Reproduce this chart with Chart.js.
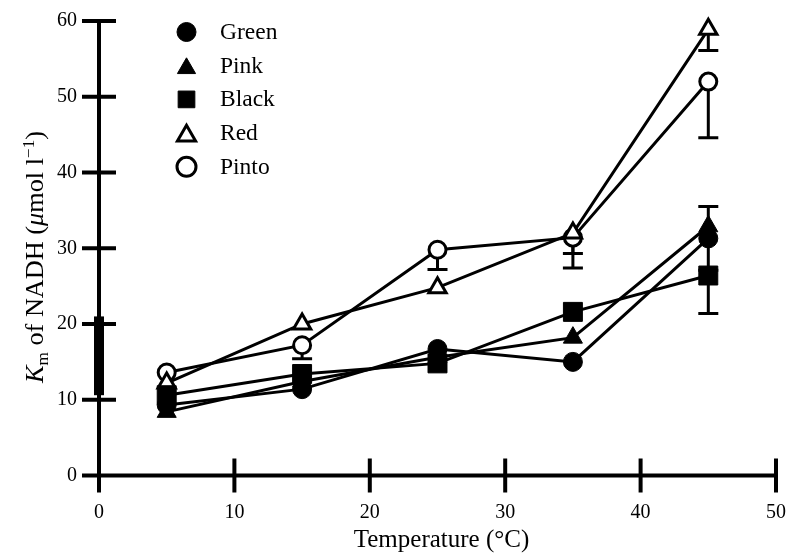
<!DOCTYPE html>
<html>
<head>
<meta charset="utf-8">
<script src="https://cdn.jsdelivr.net/npm/chart.js@4.4.1/dist/chart.umd.min.js"></script>
<style>
  html, body { margin: 0; padding: 0; background: #fff; }
  #wrap { width: 796px; height: 557px; }
</style>
</head>
<body>
<div id="wrap"><canvas id="chart" width="796" height="557"></canvas></div>
<script>
// temperatures (°C) and Km of NADH (µmol l-1)
const temps = [5, 15, 25, 35, 45];
const green = [9.3, 11.4, 16.7, 15.0, 31.3];
const pink  = [8.4, 12.4, 15.6, 18.2, 32.9];
const black = [10.6, 13.4, 14.8, 21.6, 26.4];
const red   = [12.2, 20.0, 24.8, 32.0, 58.9];
const pinto = [13.6, 17.2, 29.8, 31.4, 52.0];

// error bars as [below, above]; null = none drawn
const greenErr = [null, null, null, null, [4.2, 4.2]];
const pinkErr  = [null, null, null, null, null];
const blackErr = [null, null, null, null, [5.0, 0]];
const redErr   = [null, null, null, [2.7, 0], [2.8, 0]];
const pintoErr = [null, [1.8, 0], [2.6, 0], [4.0, 0], [7.4, 0]];

// thick mark on the y axis at 0 °C
const axisBar = [10.6, 21];

const xTicks = [0, 10, 20, 30, 40, 50];
const yTicks = [0, 10, 20, 30, 40, 50, 60];

const SERIF = '"Liberation Serif", "Times New Roman", serif';

const series = [
  { label: 'Green', values: green, err: greenErr, style: 'circle',   filled: true },
  { label: 'Pink',  values: pink,  err: pinkErr,  style: 'triangle', filled: true },
  { label: 'Black', values: black, err: blackErr, style: 'rect',     filled: true },
  { label: 'Red',   values: red,   err: redErr,   style: 'triangle', filled: false },
  { label: 'Pinto', values: pinto, err: pintoErr, style: 'circle',   filled: false }
];

function markerSize(style, filled) {
  if (style === 'circle') return filled ? 9.5 : 8.5;
  if (style === 'triangle') return filled ? 11 : 10;
  return 13.4;
}

const datasets = series.map(s => ({
  label: s.label,
  data: temps.map((t, i) => ({ x: t, y: s.values[i] })),
  showLine: true,
  borderColor: '#000',
  borderWidth: 3,
  pointStyle: s.style,
  pointRadius: markerSize(s.style, s.filled),
  pointBackgroundColor: s.filled ? '#000' : '#fff',
  pointBorderColor: '#000',
  pointBorderWidth: s.filled ? 1 : 3,
  clip: false
}));

datasets.push({
  label: 'axis bar',
  data: axisBar.map(v => ({ x: 0, y: v })),
  showLine: true,
  borderColor: '#000',
  borderWidth: 10,
  borderCapStyle: 'butt',
  pointRadius: 0,
  clip: false
});

function drawMarker(ctx, style, x, y, r, filled) {
  ctx.save();
  ctx.fillStyle = filled ? '#000' : '#fff';
  ctx.strokeStyle = '#000';
  ctx.lineWidth = filled ? 1 : 3;
  ctx.beginPath();
  if (style === 'circle') {
    ctx.arc(x, y, r, 0, Math.PI * 2);
  } else if (style === 'triangle') {
    const a = -Math.PI / 2;
    for (let k = 0; k < 3; k++) {
      const t = a + k * 2 * Math.PI / 3;
      ctx.lineTo(x + Math.cos(t) * r, y + Math.sin(t) * r);
    }
    ctx.closePath();
  } else {
    const h = r * Math.SQRT1_2;
    ctx.rect(x - h, y - h, 2 * h, 2 * h);
  }
  ctx.fill();
  ctx.stroke();
  ctx.restore();
}

const axesPlugin = {
  id: 'axes',
  beforeDatasetsDraw(chart) {
    const { ctx, scales: { x, y } } = chart;
    ctx.save();
    ctx.strokeStyle = '#000';
    ctx.lineWidth = 4;
    ctx.lineCap = 'butt';
    const x0 = x.getPixelForValue(0), y0 = y.getPixelForValue(0);
    ctx.beginPath();
    ctx.moveTo(x0, y0); ctx.lineTo(x0, y.getPixelForValue(60));
    ctx.moveTo(x0, y0); ctx.lineTo(x.getPixelForValue(50), y0);
    yTicks.forEach(v => {
      const py = y.getPixelForValue(v);
      ctx.moveTo(x0 - 17, py); ctx.lineTo(x0 + 17, py);
    });
    xTicks.forEach(v => {
      const px = x.getPixelForValue(v);
      ctx.moveTo(px, y0 - 17); ctx.lineTo(px, y0 + 17);
    });
    ctx.stroke();

    // error bars, drawn under the markers
    ctx.lineWidth = 3;
    series.forEach(s => {
      s.err.forEach((e, i) => {
        if (!e) return;
        const px = x.getPixelForValue(temps[i]);
        const ends = [];
        if (e[0]) ends.push(s.values[i] - e[0]);
        if (e[1]) ends.push(s.values[i] + e[1]);
        ends.forEach(v => {
          const pc = y.getPixelForValue(s.values[i]);
          const pe = y.getPixelForValue(v);
          ctx.beginPath();
          ctx.moveTo(px, pc); ctx.lineTo(px, pe);
          ctx.moveTo(px - 10, pe); ctx.lineTo(px + 10, pe);
          ctx.stroke();
        });
      });
    });
    ctx.restore();
  }
};

const textPlugin = {
  id: 'texts',
  afterDraw(chart) {
    const { ctx, chartArea } = chart;
    ctx.save();
    ctx.fillStyle = '#000';

    // legend
    series.forEach((s, i) => {
      const cy = 32 + i * 33.7;
      const r = s.style === 'rect' ? 11.8 : (s.style === 'triangle' ? 10.5 : 9.5);
      const my = s.style === 'triangle' ? cy + r / 4 : cy;
      drawMarker(ctx, s.style, 186.5, my, r, s.filled);
      ctx.fillStyle = '#000';
      ctx.font = '23.5px ' + SERIF;
      ctx.textAlign = 'left';
      ctx.textBaseline = 'alphabetic';
      ctx.fillText(s.label, 220, cy + 7);
    });

    // x title
    ctx.font = '25px ' + SERIF;
    ctx.textAlign = 'center';
    ctx.fillText('Temperature (°C)', (chartArea.left + chartArea.right) / 2 + 4, 547);

    // y title with italic K, subscript m and superscript -1
    const big = 24.5, small = 16;
    const parts = [
      { t: 'K', f: 'italic ' + big + 'px ' + SERIF, dy: 0 },
      { t: 'm', f: small + 'px ' + SERIF, dy: 5 },
      { t: ' of NADH (', f: big + 'px ' + SERIF, dy: 0 },
      { t: 'μ', f: 'italic ' + big + 'px ' + SERIF, dy: 0 },
      { t: 'mol l', f: big + 'px ' + SERIF, dy: 0 },
      { t: '−1', f: small + 'px ' + SERIF, dy: -9 },
      { t: ')', f: big + 'px ' + SERIF, dy: 0 }
    ];
    let total = 0;
    parts.forEach(p => { ctx.font = p.f; p.w = ctx.measureText(p.t).width; total += p.w; });
    ctx.translate(43, 257);
    ctx.rotate(-Math.PI / 2);
    ctx.scale(252 / total, 1);
    ctx.textAlign = 'left';
    let cx = -total / 2;
    parts.forEach(p => {
      ctx.font = p.f;
      ctx.fillText(p.t, cx, p.dy);
      cx += p.w;
    });
    ctx.restore();
  }
};

new Chart(document.getElementById('chart').getContext('2d'), {
  type: 'scatter',
  data: { datasets },
  options: {
    responsive: false,
    animation: false,
    layout: { autoPadding: false, padding: { top: 21, right: 20, bottom: 0, left: 0 } },
    plugins: { legend: { display: false }, tooltip: { enabled: false } },
    scales: {
      x: {
        type: 'linear', min: 0, max: 50,
        grid: { display: false, drawTicks: false },
        border: { display: false },
        afterBuildTicks: s => { s.ticks = xTicks.map(v => ({ value: v })); },
        ticks: { color: '#000', font: { family: SERIF, size: 20 }, padding: 25, maxRotation: 0 },
        afterFit: s => { s.height = 81.5; s.paddingLeft = 0; s.paddingRight = 0; }
      },
      y: {
        type: 'linear', min: 0, max: 60,
        grid: { display: false, drawTicks: false },
        border: { display: false },
        afterBuildTicks: s => { s.ticks = yTicks.map(v => ({ value: v })); },
        ticks: { color: '#000', font: { family: SERIF, size: 20 }, padding: 22 },
        afterFit: s => { s.width = 99; s.paddingTop = 0; s.paddingBottom = 0; }
      }
    }
  },
  plugins: [axesPlugin, textPlugin]
});
</script>
</body>
</html>
